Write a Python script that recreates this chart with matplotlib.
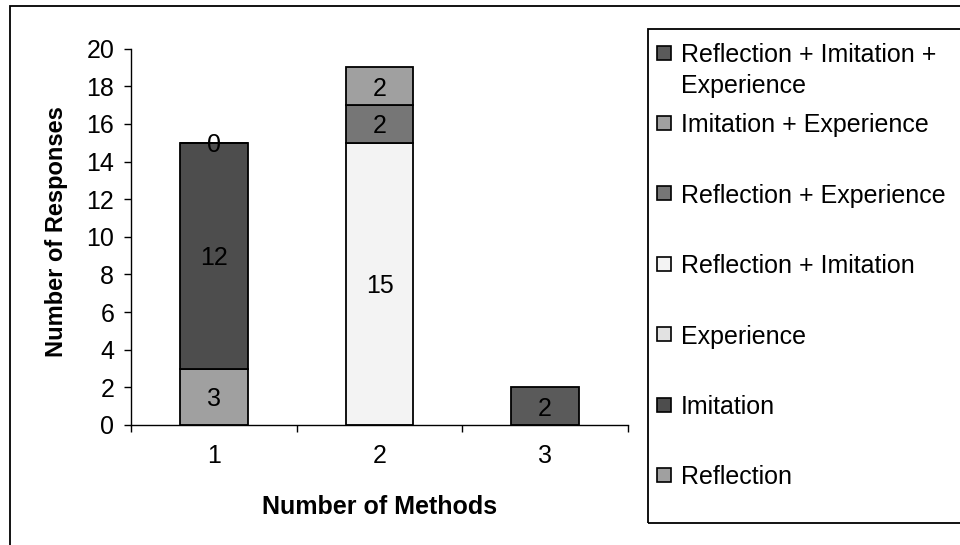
import matplotlib
matplotlib.use('Agg')
import matplotlib.pyplot as plt
from matplotlib.patches import Rectangle
import numpy as np

plt.rcParams['font.family'] = ['Liberation Sans', 'DejaVu Sans']

categories = ['1', '2', '3']
series_names = ['Reflection', 'Imitation', 'Experience', 'Reflection + Imitation',
                'Reflection + Experience', 'Imitation + Experience',
                'Reflection + Imitation + Experience']
reflection = [3, None, None]
imitation = [12, None, None]
experience = [0, None, None]
refl_imit = [None, 15, None]
refl_exp = [None, 2, None]
imit_exp = [None, 2, None]
refl_imit_exp = [None, None, 2]
series_values = [reflection, imitation, experience, refl_imit, refl_exp, imit_exp, refl_imit_exp]
colors = ['#A0A0A0', '#4D4D4D', '#E2E2E2', '#F3F3F3', '#767676', '#A0A0A0', '#5A5A5A']
legend_labels = ['Reflection + Imitation +\nExperience', 'Imitation + Experience',
                 'Reflection + Experience', 'Reflection + Imitation', 'Experience',
                 'Imitation', 'Reflection']
y_ticks = [0, 2, 4, 6, 8, 10, 12, 14, 16, 18, 20]

W, H = 960, 545
FS = 18
fig = plt.figure(figsize=(W / 100, H / 100), dpi=100)

# outer chart frame
fig.add_artist(Rectangle((10 / W, -0.1), 1.2, 1.1 - 6 / H, transform=fig.transFigure,
                         fill=False, ec='black', lw=1.3))

ax = fig.add_axes([131 / W, 1 - 425 / H, 497 / W, (425 - 48.6) / H])
x = np.arange(len(categories))
bottoms = np.zeros(len(categories))
for vals, c in zip(series_values, colors):
    idx = [i for i, a in enumerate(vals) if a is not None]
    hv = np.array([vals[i] for i in idx], float)
    ax.bar(x[idx], hv, 0.41, bottom=bottoms[idx], color=c, edgecolor='black', linewidth=1.3)
    for i in idx:
        ax.text(x[i], bottoms[i] + vals[i] / 2, str(vals[i]), ha='center', va='center_baseline',
                fontsize=FS)
        bottoms[i] += vals[i]

ax.set_xlim(-0.5, 2.5)
ax.set_ylim(0, 20)
for s in ['top', 'right']:
    ax.spines[s].set_visible(False)
for s in ['left', 'bottom']:
    ax.spines[s].set_linewidth(1.0)
ax.set_yticks(y_ticks)
ax.tick_params(axis='y', direction='out', length=5, width=1.0, pad=7, labelsize=FS)
ax.set_xticks([-0.5, 0.5, 1.5, 2.5])
ax.set_xticklabels([])
ax.tick_params(axis='x', which='major', direction='out', length=5, width=1.0)
ax.set_xticks(x, minor=True)
ax.set_xticklabels(categories, minor=True)
ax.tick_params(axis='x', which='minor', length=0, pad=14, labelsize=FS)

fig.text(380 / W, 1 - 507 / H, 'Number of Methods', ha='center', va='center',
         fontsize=FS, fontweight='bold')
fig.text(57 / W, 1 - 232 / H, 'Number of Responses', ha='center', va='center',
         rotation=90, fontsize=17, fontweight='bold')

# legend
fig.add_artist(Rectangle((648 / W, 1 - 523 / H), 1.0, (523 - 29) / H, transform=fig.transFigure,
                         fill=False, ec='black', lw=1.3))
leg_colors = colors[::-1]
rows = [52.5 + 70.4 * i for i in range(7)]
for lab, c, yc in zip(legend_labels, leg_colors, rows):
    fig.add_artist(Rectangle((657 / W, 1 - (yc + 7) / H), 14 / W, 14 / H,
                             transform=fig.transFigure, fc=c, ec='black', lw=1.2))
    lines = lab.split('\n')
    for k, ln in enumerate(lines):
        fig.text(681 / W, 1 - (yc + 31 * k) / H, ln, ha='left', va='center_baseline', fontsize=FS)

fig.savefig('out.png', dpi=100)
